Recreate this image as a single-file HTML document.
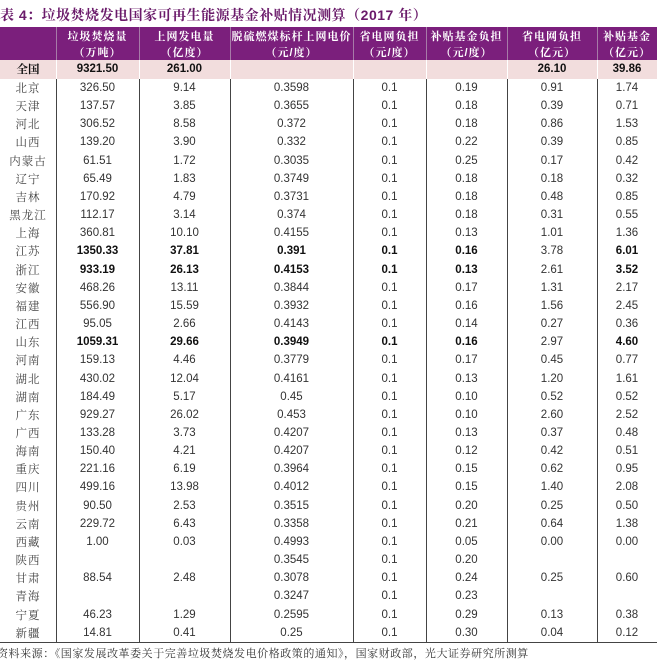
<!DOCTYPE html>
<html><head><meta charset="utf-8">
<style>
*{margin:0;padding:0;box-sizing:border-box}
html,body{width:657px;height:663px;background:#fff;overflow:hidden}
#w{position:relative;width:657px;height:663px}
.title{position:absolute;left:0;top:5px;font:bold 14px "Liberation Sans","Noto Serif CJK SC",serif;color:#6a1a6a;white-space:nowrap;letter-spacing:0.5px}
.hdr{position:absolute;left:0;top:27px;width:657px;height:33px;background:#7b1f7c;display:flex}
.hdr div{color:#fff;font:bold 11px "Liberation Sans","Noto Serif CJK SC",serif;text-align:center;line-height:16px;padding-top:2px;letter-spacing:1px;white-space:nowrap}
.tot{position:absolute;left:0;top:60px;width:657px;height:19px;background:#f2dddd;display:flex}
.tot div{font:bold 11.5px "Liberation Sans","Noto Serif CJK SC",sans-serif;color:#111;text-align:center;line-height:19px}
.body{position:absolute;left:0;top:79px;width:657px}
.r{display:flex;height:18.16px}
.r div{text-align:center;font:11.5px "Liberation Sans",sans-serif;line-height:18.16px;color:#333;white-space:nowrap}
.r div:first-child{font:11.5px "Noto Serif CJK SC",serif;line-height:18.16px;color:#444;letter-spacing:1px}
.r.b div{font-weight:bold;color:#111}
.r.b div:first-child{font-weight:normal;color:#444}
.r.b div:nth-child(7){font-weight:normal;color:#333}
.c1{width:56px}.c2{width:83px}.c3{width:91px}.c4{width:123px}.c5{width:73px}.c6{width:81px}.c7{width:90px}.c8{width:60px}
.vl{position:absolute;width:1px;background:#444;top:79px;height:563px}
.vh{position:absolute;width:1px;background:#a77aa8;top:27px;height:33px}
.vp{position:absolute;width:1px;background:#fff;top:60px;height:19px}
.bot{position:absolute;left:0;top:642px;width:657px;height:1px;background:#444}
.src{position:absolute;left:-3px;top:645px;font:11px "Noto Serif CJK SC",serif;color:#333;white-space:nowrap;line-height:16px;letter-spacing:0.55px}
</style></head><body><div id="w">
<div class="title">表 4：垃圾焚烧发电国家可再生能源基金补贴情况测算（2017 年）</div>
<div class="hdr">
<div class="c1"></div>
<div class="c2">垃圾焚烧量<br>（万吨）</div>
<div class="c3">上网发电量<br>（亿度）</div>
<div class="c4">脱硫燃煤标杆上网电价<br>（元/度）</div>
<div class="c5">省电网负担<br>（元/度）</div>
<div class="c6">补贴基金负担<br>（元/度）</div>
<div class="c7">省电网负担<br>（亿元）</div>
<div class="c8">补贴基金<br>（亿元）</div>
</div>
<div class="tot">
<div class="c1" style="font-family:'Noto Serif CJK SC',serif">全国</div><div class="c2">9321.50</div><div class="c3">261.00</div><div class="c4"></div><div class="c5"></div><div class="c6"></div><div class="c7">26.10</div><div class="c8">39.86</div>
</div>
<div class="body">
<div class="r"><div class="c1">北京</div><div class="c2">326.50</div><div class="c3">9.14</div><div class="c4">0.3598</div><div class="c5">0.1</div><div class="c6">0.19</div><div class="c7">0.91</div><div class="c8">1.74</div></div>
<div class="r"><div class="c1">天津</div><div class="c2">137.57</div><div class="c3">3.85</div><div class="c4">0.3655</div><div class="c5">0.1</div><div class="c6">0.18</div><div class="c7">0.39</div><div class="c8">0.71</div></div>
<div class="r"><div class="c1">河北</div><div class="c2">306.52</div><div class="c3">8.58</div><div class="c4">0.372</div><div class="c5">0.1</div><div class="c6">0.18</div><div class="c7">0.86</div><div class="c8">1.53</div></div>
<div class="r"><div class="c1">山西</div><div class="c2">139.20</div><div class="c3">3.90</div><div class="c4">0.332</div><div class="c5">0.1</div><div class="c6">0.22</div><div class="c7">0.39</div><div class="c8">0.85</div></div>
<div class="r"><div class="c1">内蒙古</div><div class="c2">61.51</div><div class="c3">1.72</div><div class="c4">0.3035</div><div class="c5">0.1</div><div class="c6">0.25</div><div class="c7">0.17</div><div class="c8">0.42</div></div>
<div class="r"><div class="c1">辽宁</div><div class="c2">65.49</div><div class="c3">1.83</div><div class="c4">0.3749</div><div class="c5">0.1</div><div class="c6">0.18</div><div class="c7">0.18</div><div class="c8">0.32</div></div>
<div class="r"><div class="c1">吉林</div><div class="c2">170.92</div><div class="c3">4.79</div><div class="c4">0.3731</div><div class="c5">0.1</div><div class="c6">0.18</div><div class="c7">0.48</div><div class="c8">0.85</div></div>
<div class="r"><div class="c1">黑龙江</div><div class="c2">112.17</div><div class="c3">3.14</div><div class="c4">0.374</div><div class="c5">0.1</div><div class="c6">0.18</div><div class="c7">0.31</div><div class="c8">0.55</div></div>
<div class="r"><div class="c1">上海</div><div class="c2">360.81</div><div class="c3">10.10</div><div class="c4">0.4155</div><div class="c5">0.1</div><div class="c6">0.13</div><div class="c7">1.01</div><div class="c8">1.36</div></div>
<div class="r b"><div class="c1">江苏</div><div class="c2">1350.33</div><div class="c3">37.81</div><div class="c4">0.391</div><div class="c5">0.1</div><div class="c6">0.16</div><div class="c7">3.78</div><div class="c8">6.01</div></div>
<div class="r b"><div class="c1">浙江</div><div class="c2">933.19</div><div class="c3">26.13</div><div class="c4">0.4153</div><div class="c5">0.1</div><div class="c6">0.13</div><div class="c7">2.61</div><div class="c8">3.52</div></div>
<div class="r"><div class="c1">安徽</div><div class="c2">468.26</div><div class="c3">13.11</div><div class="c4">0.3844</div><div class="c5">0.1</div><div class="c6">0.17</div><div class="c7">1.31</div><div class="c8">2.17</div></div>
<div class="r"><div class="c1">福建</div><div class="c2">556.90</div><div class="c3">15.59</div><div class="c4">0.3932</div><div class="c5">0.1</div><div class="c6">0.16</div><div class="c7">1.56</div><div class="c8">2.45</div></div>
<div class="r"><div class="c1">江西</div><div class="c2">95.05</div><div class="c3">2.66</div><div class="c4">0.4143</div><div class="c5">0.1</div><div class="c6">0.14</div><div class="c7">0.27</div><div class="c8">0.36</div></div>
<div class="r b"><div class="c1">山东</div><div class="c2">1059.31</div><div class="c3">29.66</div><div class="c4">0.3949</div><div class="c5">0.1</div><div class="c6">0.16</div><div class="c7">2.97</div><div class="c8">4.60</div></div>
<div class="r"><div class="c1">河南</div><div class="c2">159.13</div><div class="c3">4.46</div><div class="c4">0.3779</div><div class="c5">0.1</div><div class="c6">0.17</div><div class="c7">0.45</div><div class="c8">0.77</div></div>
<div class="r"><div class="c1">湖北</div><div class="c2">430.02</div><div class="c3">12.04</div><div class="c4">0.4161</div><div class="c5">0.1</div><div class="c6">0.13</div><div class="c7">1.20</div><div class="c8">1.61</div></div>
<div class="r"><div class="c1">湖南</div><div class="c2">184.49</div><div class="c3">5.17</div><div class="c4">0.45</div><div class="c5">0.1</div><div class="c6">0.10</div><div class="c7">0.52</div><div class="c8">0.52</div></div>
<div class="r"><div class="c1">广东</div><div class="c2">929.27</div><div class="c3">26.02</div><div class="c4">0.453</div><div class="c5">0.1</div><div class="c6">0.10</div><div class="c7">2.60</div><div class="c8">2.52</div></div>
<div class="r"><div class="c1">广西</div><div class="c2">133.28</div><div class="c3">3.73</div><div class="c4">0.4207</div><div class="c5">0.1</div><div class="c6">0.13</div><div class="c7">0.37</div><div class="c8">0.48</div></div>
<div class="r"><div class="c1">海南</div><div class="c2">150.40</div><div class="c3">4.21</div><div class="c4">0.4207</div><div class="c5">0.1</div><div class="c6">0.12</div><div class="c7">0.42</div><div class="c8">0.51</div></div>
<div class="r"><div class="c1">重庆</div><div class="c2">221.16</div><div class="c3">6.19</div><div class="c4">0.3964</div><div class="c5">0.1</div><div class="c6">0.15</div><div class="c7">0.62</div><div class="c8">0.95</div></div>
<div class="r"><div class="c1">四川</div><div class="c2">499.16</div><div class="c3">13.98</div><div class="c4">0.4012</div><div class="c5">0.1</div><div class="c6">0.15</div><div class="c7">1.40</div><div class="c8">2.08</div></div>
<div class="r"><div class="c1">贵州</div><div class="c2">90.50</div><div class="c3">2.53</div><div class="c4">0.3515</div><div class="c5">0.1</div><div class="c6">0.20</div><div class="c7">0.25</div><div class="c8">0.50</div></div>
<div class="r"><div class="c1">云南</div><div class="c2">229.72</div><div class="c3">6.43</div><div class="c4">0.3358</div><div class="c5">0.1</div><div class="c6">0.21</div><div class="c7">0.64</div><div class="c8">1.38</div></div>
<div class="r"><div class="c1">西藏</div><div class="c2">1.00</div><div class="c3">0.03</div><div class="c4">0.4993</div><div class="c5">0.1</div><div class="c6">0.05</div><div class="c7">0.00</div><div class="c8">0.00</div></div>
<div class="r"><div class="c1">陕西</div><div class="c2"></div><div class="c3"></div><div class="c4">0.3545</div><div class="c5">0.1</div><div class="c6">0.20</div><div class="c7"></div><div class="c8"></div></div>
<div class="r"><div class="c1">甘肃</div><div class="c2">88.54</div><div class="c3">2.48</div><div class="c4">0.3078</div><div class="c5">0.1</div><div class="c6">0.24</div><div class="c7">0.25</div><div class="c8">0.60</div></div>
<div class="r"><div class="c1">青海</div><div class="c2"></div><div class="c3"></div><div class="c4">0.3247</div><div class="c5">0.1</div><div class="c6">0.23</div><div class="c7"></div><div class="c8"></div></div>
<div class="r"><div class="c1">宁夏</div><div class="c2">46.23</div><div class="c3">1.29</div><div class="c4">0.2595</div><div class="c5">0.1</div><div class="c6">0.29</div><div class="c7">0.13</div><div class="c8">0.38</div></div>
<div class="r"><div class="c1">新疆</div><div class="c2">14.81</div><div class="c3">0.41</div><div class="c4">0.25</div><div class="c5">0.1</div><div class="c6">0.30</div><div class="c7">0.04</div><div class="c8">0.12</div></div>
</div>
<div class="vh" style="left:56px"></div><div class="vh" style="left:139px"></div><div class="vh" style="left:230px"></div><div class="vh" style="left:353px"></div><div class="vh" style="left:426px"></div><div class="vh" style="left:507px"></div><div class="vh" style="left:597px"></div>
<div class="vp" style="left:56px"></div><div class="vp" style="left:139px"></div><div class="vp" style="left:230px"></div><div class="vp" style="left:353px"></div><div class="vp" style="left:426px"></div><div class="vp" style="left:507px"></div><div class="vp" style="left:597px"></div>
<div class="vl" style="left:56px"></div><div class="vl" style="left:139px"></div><div class="vl" style="left:230px"></div><div class="vl" style="left:353px"></div><div class="vl" style="left:426px"></div><div class="vl" style="left:507px"></div><div class="vl" style="left:597px"></div>
<div class="bot"></div>
<div class="src">资料来源：《国家发展改革委关于完善垃圾焚烧发电价格政策的通知》，国家财政部，光大证券研究所测算</div>
</div></body></html>
